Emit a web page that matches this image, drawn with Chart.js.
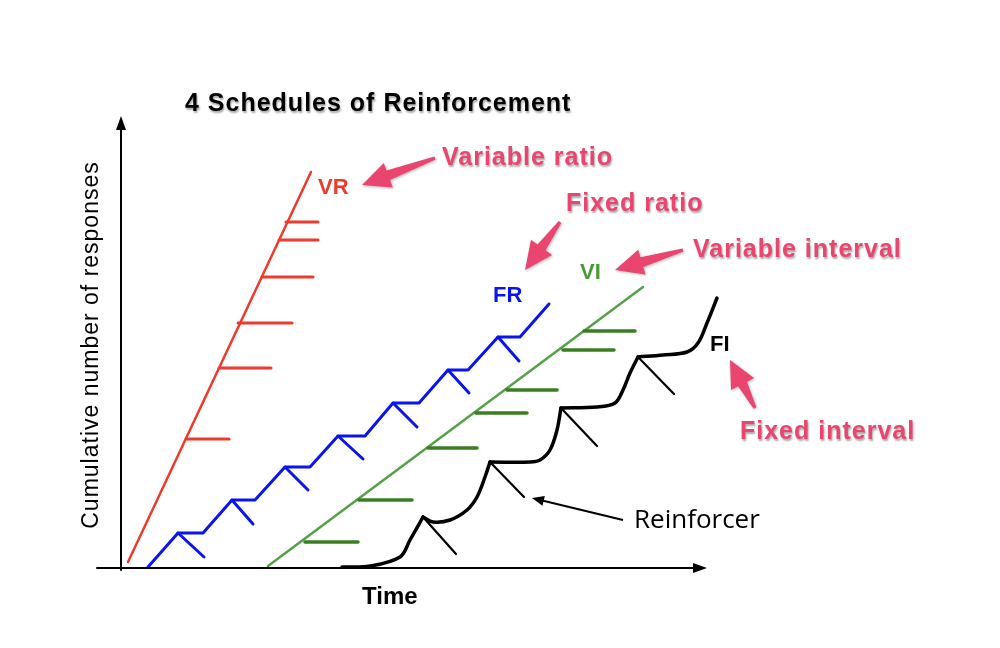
<!DOCTYPE html>
<html><head><meta charset="utf-8">
<script src="https://cdn.jsdelivr.net/npm/chart.js@4"></script>
<style>body{margin:0;background:#fff}#w{width:1000px;height:648px}</style>
</head><body><div id="w"><canvas id="c"></canvas></div>
<script>
// All coordinates in picture units: x = time position, y = height above the page bottom (648 - pixel row)
const H = 648;
const vrLine = [[128,562],[311,172]];
const vrHashes = [[[186,439],[229,439]],[[219,368],[271,368]],[[238,323],[292,323]],[[262,277],[313,277]],[[279,240],[318,240]],[[286,222],[318,222]]];
const frSteps = [[148,567],[178,533],[203,533],[232,500],[255,500],[285,467],[310,467],[338,436],[365,436],[393,403],[419,403],[448,370],[468,370],[498,337],[520,337],[549,304]];
const frTicks = [[[178,533],[204,557]],[[232,500],[253,524]],[[285,467],[308,490]],[[338,436],[363,459]],[[393,403],[417,427]],[[448,370],[469,393]],[[498,337],[519,361]]];
const viLine = [[268,566],[643,287]];
const viHashes = [[[305,542],[358,542]],[[359,500],[412,500]],[[428,448],[477,448]],[[476,413],[527,413]],[[507,390],[557,390]],[[563,350],[614,350]],[[584,331],[635,331]]];
const fiCurves = [
 [[342,567],[370,566],[400,557],[410,540],[423,517]],
 [[423,517],[433,522],[450,520],[467,510],[477,497],[485,477],[490,462]],
 [[490,462],[530,462],[540,460],[550,450],[557,430],[561,408]],
 [[561,408],[597,407],[615,403],[623,390],[630,373],[638,357]],
 [[638,357],[663,355],[687,352],[698,343],[707,323],[717,298]]];
const fiTicks = [[[423,517],[456,554]],[[490,462],[524,497]],[[561,408],[597,446]],[[638,357],[674,394]]];
const axes = [[[121,570],[121,120]],[[97,568],[703,568]]];

const P = (a)=>a.map(p=>({x:p[0],y:H-p[1]}));
const joinSegs = (segs)=>{const out=[];segs.forEach(s=>{out.push(...P(s));out.push({x:s[s.length-1][0]+0.1,y:null});});return out;};
const ds=(data,color,w,tension=0)=>({data,borderColor:color,borderWidth:w,pointRadius:0,tension,spanGaps:false,fill:false,borderCapStyle:'round',borderJoinStyle:'round'});

const datasets=[
 ds(joinSegs(axes),'#000',2),
 ds(P(vrLine),'#ee3a2c',2.5),
 ds(joinSegs(vrHashes),'#ee3a2c',3),
 ds(joinSegs(viHashes),'#3a7d22',3.5),
 ds(P(viLine),'#55a048',2.5),
 ds(P(frSteps),'#0a14f0',3),
 ds(joinSegs(frTicks),'#0a14f0',3),
 ...fiCurves.map(c=>ds(P(c),'#000',3.5,0.35)),
 ds(joinSegs(fiTicks),'#000',2.2)
];

const pink='#e9456e';
const B='"Liberation Sans", Arial';
const labels=[
 {t:'4 Schedules of Reinforcement',x:185,y:104,f:'bold 25px '+B,c:'#000',sh:true,ls:1},
 {t:'Variable ratio',x:442,y:158,f:'bold 25px '+B,c:pink,sh:true,ls:1},
 {t:'Fixed ratio',x:566,y:204,f:'bold 25px '+B,c:pink,sh:true,ls:1},
 {t:'Variable interval',x:693,y:250,f:'bold 25px '+B,c:pink,sh:true,ls:1},
 {t:'Fixed interval',x:740,y:432,f:'bold 25px '+B,c:pink,sh:true,ls:1},
 {t:'VR',x:318,y:188,f:'bold 22px '+B,c:'#ee3a2c'},
 {t:'FR',x:493,y:296,f:'bold 22px '+B,c:'#0a14f0'},
 {t:'VI',x:580,y:273,f:'bold 22px '+B,c:'#4a9a3a'},
 {t:'FI',x:710,y:345,f:'bold 22px '+B,c:'#000'},
 {t:'Reinforcer',x:634,y:521,f:'26px "Open Sans", sans-serif',c:'#000'},
 {t:'Time',x:362,y:597,f:'bold 24px '+B,c:'#000'}
];
const bigArrows=[[[435,158],[362,185]],[[560,222],[525,270]],[[683,250],[615,270]],[[755,408],[730,360]]];

const deco={id:'deco',afterDatasetsDraw(ch){
 const ctx=ch.ctx,xs=ch.scales.x,ys=ch.scales.y;
 const X=v=>xs.getPixelForValue(v),Y=v=>ys.getPixelForValue(H-v);
 ctx.save();
 ctx.fillStyle='#000';
 ctx.beginPath();ctx.moveTo(X(121),Y(116));ctx.lineTo(X(116),Y(130));ctx.lineTo(X(126),Y(130));ctx.fill();
 ctx.beginPath();ctx.moveTo(X(707),Y(568));ctx.lineTo(X(693),Y(563));ctx.lineTo(X(693),Y(573));ctx.fill();
 ctx.strokeStyle='#000';ctx.lineWidth=2;
 ctx.beginPath();ctx.moveTo(X(623),Y(520));ctx.lineTo(X(536),Y(499));ctx.stroke();
 let a=Math.atan2(499-520,536-623);
 ctx.beginPath();ctx.moveTo(X(532),Y(498));
 ctx.lineTo(X(532)-12*Math.cos(a)+5*Math.sin(a),Y(498)-12*Math.sin(a)-5*Math.cos(a));
 ctx.lineTo(X(532)-12*Math.cos(a)-5*Math.sin(a),Y(498)-12*Math.sin(a)+5*Math.cos(a));ctx.fill();
 ctx.fillStyle=pink;ctx.shadowColor='rgba(0,0,0,0.3)';ctx.shadowBlur=3;ctx.shadowOffsetX=1;ctx.shadowOffsetY=1;
 bigArrows.forEach(([t,h])=>{
  const tx=X(t[0]),ty=Y(t[1]),hx=X(h[0]),hy=Y(h[1]);
  const L=Math.hypot(hx-tx,hy-ty),ux=(hx-tx)/L,uy=(hy-ty)/L,nx=-uy,ny=ux;
  const hl=Math.min(28,L*0.5),bx=hx-ux*hl,by=hy-uy*hl;
  ctx.beginPath();
  ctx.moveTo(tx+nx*1.5,ty+ny*1.5);
  ctx.lineTo(bx+nx*5,by+ny*5);ctx.lineTo(bx+nx*13,by+ny*13);
  ctx.lineTo(hx,hy);
  ctx.lineTo(bx-nx*13,by-ny*13);ctx.lineTo(bx-nx*5,by-ny*5);
  ctx.lineTo(tx-nx*1.5,ty-ny*1.5);ctx.closePath();ctx.fill();
 });
 ctx.textBaseline='middle';ctx.textAlign='left';
 labels.forEach(l=>{
  ctx.font=l.f;ctx.fillStyle=l.c;ctx.letterSpacing=(l.ls||0)+'px';
  if(l.sh){ctx.shadowColor='rgba(0,0,0,0.35)';ctx.shadowBlur=2;ctx.shadowOffsetX=1;ctx.shadowOffsetY=2;}
  else{ctx.shadowColor='transparent';ctx.shadowBlur=0;ctx.shadowOffsetX=0;ctx.shadowOffsetY=0;}
  ctx.fillText(l.t,X(l.x),Y(l.y));
 });
 ctx.shadowColor='transparent';ctx.letterSpacing='1px';
 ctx.translate(X(92),Y(345));ctx.rotate(-Math.PI/2);
 ctx.textAlign='center';ctx.font='23px '+B;ctx.fillStyle='#000';
 ctx.fillText('Cumulative number of responses',0,0);
 ctx.restore();
}};

new Chart(document.getElementById('c'),{type:'line',data:{datasets},
 options:{responsive:true,maintainAspectRatio:false,animation:false,layout:{padding:0},
  plugins:{legend:{display:false},tooltip:{enabled:false}},
  scales:{x:{type:'linear',min:0,max:1000,display:false},y:{type:'linear',min:0,max:H,display:false}}},
 plugins:[deco]});
</script></body></html>
